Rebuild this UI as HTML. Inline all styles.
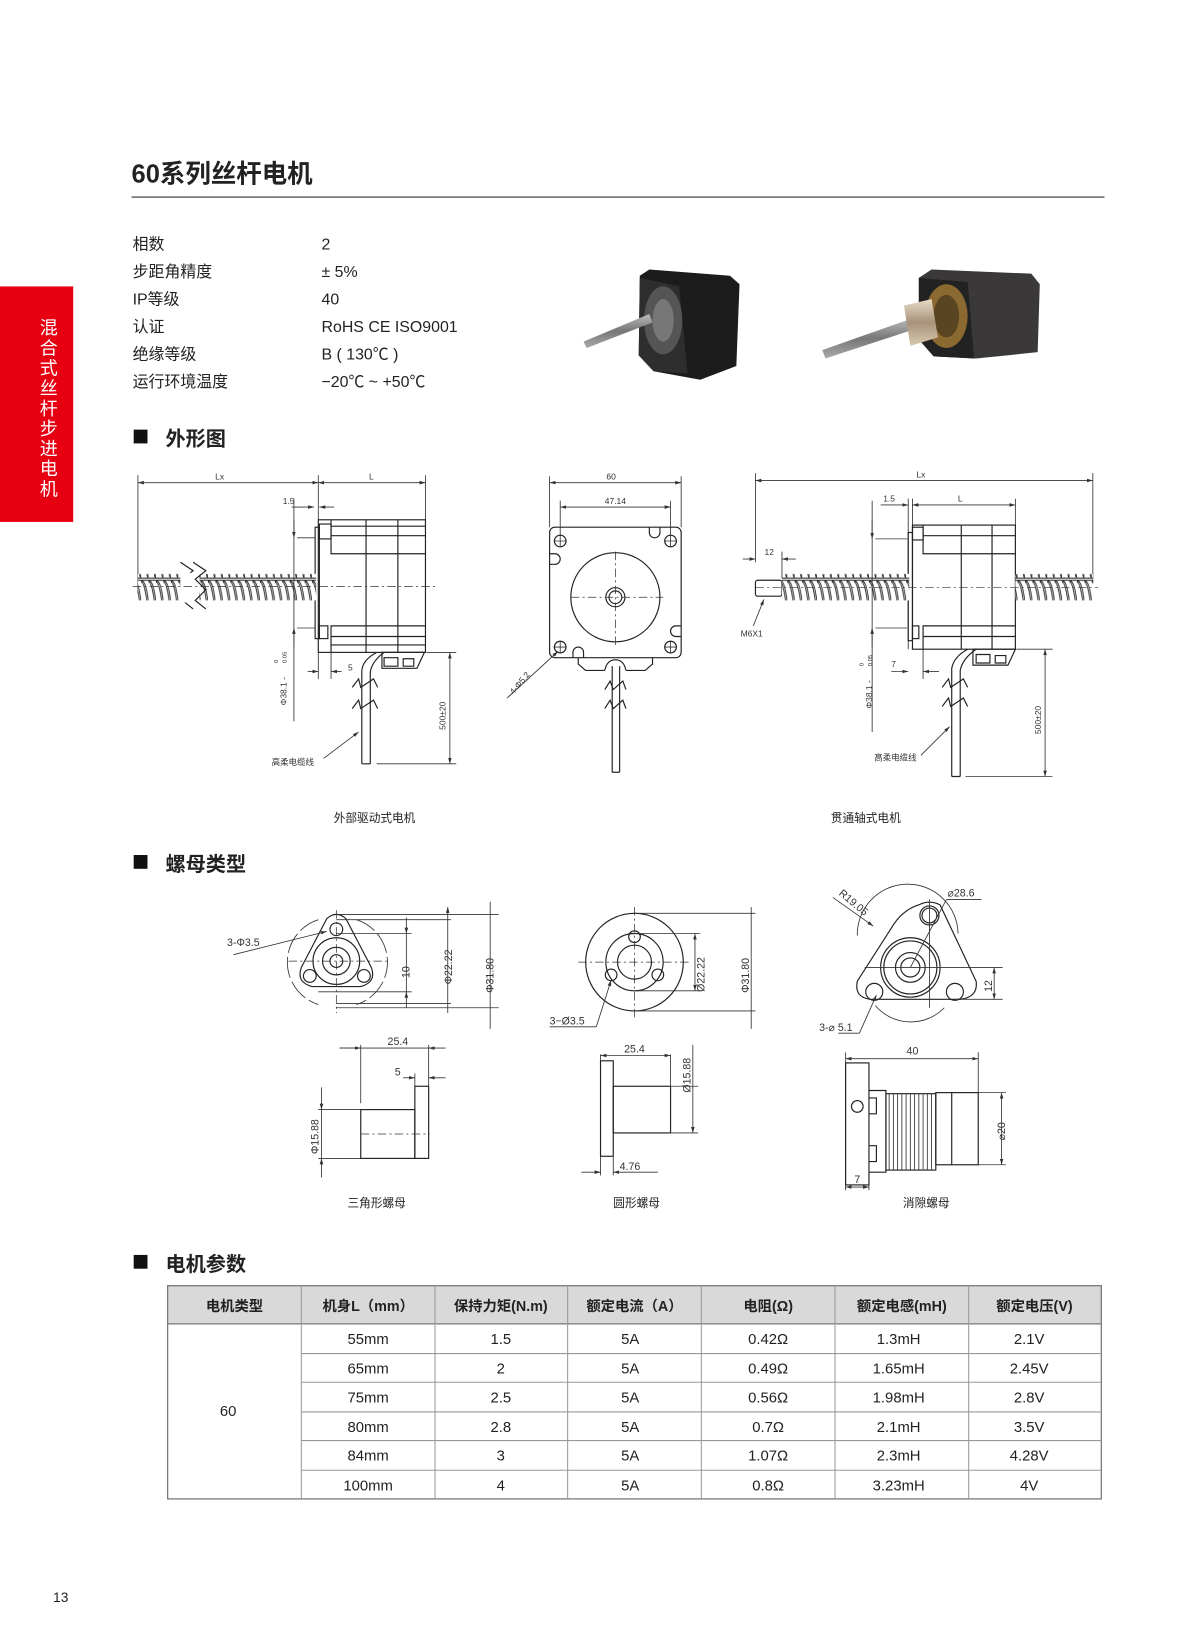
<!DOCTYPE html>
<html><head><meta charset="utf-8"><style>
html,body{margin:0;padding:0;background:#fff;width:1200px;height:1640px;overflow:hidden}
svg{display:block}
text{font-family:"Liberation Sans","Noto Sans CJK SC",sans-serif;fill:#222}
.d{fill:none;stroke:#333;stroke-width:0.8}
.t{fill:none;stroke:#222;stroke-width:1.1}
.c{fill:none;stroke:#333;stroke-width:0.7;stroke-dasharray:8 3 2 3}
.s{font-size:8px;fill:#333}
.n{font-size:10px;fill:#333}
</style></head><body>
<svg width="1200" height="1640" viewBox="0 0 1131 1546" preserveAspectRatio="none" xmlns="http://www.w3.org/2000/svg">
<defs>
<marker id="a" viewBox="0 0 10 10" refX="10" refY="5" markerWidth="7" markerHeight="7" orient="auto-start-reverse"><path d="M0,2 L10,5 L0,8z" fill="#333"/></marker>
<pattern id="thr" width="7" height="26" patternUnits="userSpaceOnUse"><rect width="7" height="26" fill="#fff"/><path d="M0,2 C5,2 6,24 7,24" stroke="#333" stroke-width="2.4" fill="none"/><path d="M1,3 C5,4 5.5,20 6.5,22" stroke="#bbb" stroke-width="0.8" fill="none"/><path d="M0,1 H7 M0,25 H7" stroke="#333" stroke-width="1"/></pattern>
<linearGradient id="sh" x1="0" y1="0" x2="0" y2="1"><stop offset="0" stop-color="#bbb"/><stop offset=".5" stop-color="#777"/><stop offset="1" stop-color="#aaa"/></linearGradient>
<linearGradient id="br" x1="0" y1="0" x2="0" y2="1"><stop offset="0" stop-color="#e8dcc8"/><stop offset=".5" stop-color="#a8927a"/><stop offset="1" stop-color="#d8c8b0"/></linearGradient>
</defs>

<!-- header -->
<text x="124" y="172" font-size="24" font-weight="bold" fill="#111">60系列丝杆电机</text>
<rect x="124" y="185" width="917" height="1.6" fill="#777"/>
<rect x="0" y="270" width="69" height="222" fill="#e60012"/>
<g font-size="17" text-anchor="middle">
<text x="46" y="315" style="fill:#fff">混</text><text x="46" y="334" style="fill:#fff">合</text><text x="46" y="353" style="fill:#fff">式</text><text x="46" y="372" style="fill:#fff">丝</text><text x="46" y="391" style="fill:#fff">杆</text><text x="46" y="410" style="fill:#fff">步</text><text x="46" y="429" style="fill:#fff">进</text><text x="46" y="448" style="fill:#fff">电</text><text x="46" y="467" style="fill:#fff">机</text>
</g>

<!-- spec -->
<g font-size="15" fill="#333">
<text x="125" y="235">相数</text><text x="303" y="235">2</text>
<text x="125" y="261">步距角精度</text><text x="303" y="261">± 5%</text>
<text x="125" y="287">IP等级</text><text x="303" y="287">40</text>
<text x="125" y="313">认证</text><text x="303" y="313">RoHS CE ISO9001</text>
<text x="125" y="339">绝缘等级</text><text x="303" y="339">B ( 130℃ )</text>
<text x="125" y="365">运行环境温度</text><text x="303" y="365">−20℃ ~ +50℃</text>
</g>

<!-- photos -->
<g>
<path d="M603,260 L612,254 L688,260 L697,268 L694,345 L660,358 L616,350 L602,335z" fill="#1c1c1c"/>
<path d="M603,262 L640,270 L648,352 L616,350 L602,335z" fill="#2e2e2e"/>
<ellipse cx="625" cy="302" rx="18" ry="32" fill="#555"/><ellipse cx="625" cy="302" rx="10" ry="20" fill="#777"/>
<path d="M550,322 L612,296 L615,304 L553,328z" fill="url(#sh)"/>
<path d="M866,262 L878,254 L972,258 L980,268 L978,332 L920,338 L880,336 L866,320z" fill="#3a3838"/>
<path d="M866,262 L912,266 L918,338 L880,336 L866,320z" fill="#222"/>
<ellipse cx="892" cy="298" rx="20" ry="30" fill="#8a6a30"/><ellipse cx="892" cy="298" rx="12" ry="20" fill="#5a4522"/>
<path d="M775,330 L860,300 L863,310 L778,338z" fill="url(#sh)"/>
<path d="M852,288 L878,282 L884,318 L858,326z" fill="url(#br)"/>
</g>

<!-- section titles -->
<rect x="126" y="405" width="13" height="13" fill="#111"/><text x="156" y="420" font-size="19" font-weight="bold" fill="#111">外形图</text>
<rect x="126" y="806" width="13" height="13" fill="#111"/><text x="156" y="821" font-size="19" font-weight="bold" fill="#111">螺母类型</text>
<rect x="126" y="1183" width="13" height="13" fill="#111"/><text x="156" y="1198" font-size="19" font-weight="bold" fill="#111">电机参数</text>

<!-- drawing 1 -->
<g>
<line class="d" x1="130" y1="448" x2="130" y2="560"/><line class="d" x1="300" y1="448" x2="300" y2="490"/><line class="d" x1="401" y1="448" x2="401" y2="490"/>
<line class="d" x1="130" y1="455" x2="300" y2="455" marker-start="url(#a)" marker-end="url(#a)"/>
<line class="d" x1="300" y1="455" x2="401" y2="455" marker-start="url(#a)" marker-end="url(#a)"/>
<text class="s" x="207" y="452" text-anchor="middle">Lx</text><text class="s" x="350" y="452" text-anchor="middle">L</text>
<line class="d" x1="275" y1="478" x2="296" y2="478" marker-end="url(#a)"/><line class="d" x1="301" y1="478" x2="315" y2="478" marker-start="url(#a)"/>
<text class="s" x="272" y="475" text-anchor="middle">1.5</text>
<rect class="t" x="300" y="490" width="101" height="125"/>
<rect class="t" x="297" y="497" width="4" height="105"/>
<rect class="t" x="301" y="494" width="11" height="14"/><rect class="t" x="301" y="590" width="8" height="12"/>
<path class="t" d="M312,490 V522 H401 M312,505 H401 M312,496 H401 M312,615 V590 H401 M312,600 H401 M312,608 H401 M345,490 V615 M375,490 V615"/>
<rect x="130" y="541" width="40" height="25" fill="url(#thr)"/><rect x="188" y="541" width="110" height="25" fill="url(#thr)"/>
<path class="t" d="M170,530 L182,538 L172,546 L182,556 L172,566 L182,574 M182,530 L194,538 L184,546 L194,556 L184,566 L194,574"/>
<rect x="171" y="540" width="12" height="28" fill="#fff"/>
<line class="c" x1="125" y1="553" x2="410" y2="553"/>
<line class="d" x1="277" y1="470" x2="277" y2="680"/><line class="d" x1="280" y1="507" x2="297" y2="507"/><line class="d" x1="280" y1="592" x2="297" y2="592"/>
<line class="d" x1="277" y1="490" x2="277" y2="507" marker-end="url(#a)"/><line class="d" x1="277" y1="610" x2="277" y2="592" marker-end="url(#a)"/>
<text class="s" transform="translate(270,665) rotate(-90)">Φ38.1 -</text><text transform="translate(262,625) rotate(-90)" font-size="5.5" fill="#333">0</text><text transform="translate(270,625) rotate(-90)" font-size="5.5" fill="#333">0.05</text>
<line class="d" x1="300" y1="615" x2="300" y2="640"/><line class="d" x1="312" y1="615" x2="312" y2="640"/>
<line class="d" x1="290" y1="633" x2="300" y2="633" marker-end="url(#a)"/><line class="d" x1="322" y1="633" x2="312" y2="633" marker-end="url(#a)"/>
<text class="s" x="328" y="632">5</text>
<path class="t" d="M355,615 Q342,622 341,632 V720 M362,615 Q350,624 349,634 V720 M341,720 H349"/>
<path class="t" d="M360,615 H400 L393,630 H360z M362,620 H375 V628 H362z M380,621 H390 V628 H380z"/>
<path class="t" d="M332,648 L338,640 L340,648 L352,640 L356,648 M332,668 L338,660 L340,668 L352,660 L356,668"/>
<line class="d" x1="355" y1="720" x2="430" y2="720"/><line class="d" x1="402" y1="615" x2="430" y2="615"/>
<line class="d" x1="424" y1="615" x2="424" y2="720" marker-start="url(#a)" marker-end="url(#a)"/>
<text class="s" transform="translate(420,688) rotate(-90)">500±20</text>
<line class="d" x1="305" y1="715" x2="338" y2="690" marker-end="url(#a)"/>
<text class="s" x="256" y="721">高柔电缆线</text>
</g>

<!-- front view -->
<g>
<line class="d" x1="518" y1="449" x2="518" y2="497"/><line class="d" x1="642" y1="449" x2="642" y2="497"/>
<line class="d" x1="518" y1="455" x2="642" y2="455" marker-start="url(#a)" marker-end="url(#a)"/><text class="s" x="576" y="452" text-anchor="middle">60</text>
<line class="d" x1="528" y1="472" x2="528" y2="505"/><line class="d" x1="632" y1="472" x2="632" y2="505"/>
<line class="d" x1="528" y1="478" x2="632" y2="478" marker-start="url(#a)" marker-end="url(#a)"/><text class="s" x="580" y="475" text-anchor="middle">47.14</text>
<rect class="t" x="518" y="497" width="124" height="123" rx="5"/>
<circle class="t" cx="580" cy="563" r="42"/><circle class="t" cx="580" cy="563" r="9"/><circle class="t" cx="580" cy="563" r="6"/>
<path class="c" d="M538,563 H625 M580,520 V610"/>
<g class="t"><circle cx="528" cy="510" r="5.5"/><circle cx="632" cy="510" r="5.5"/><circle cx="528" cy="610" r="5.5"/><circle cx="632" cy="610" r="5.5"/></g>
<path class="d" d="M522,510H534M528,504V516M626,510H638M632,504V516M522,610H534M528,604V616M626,610H638M632,604V616"/>
<path class="t" d="M612,497 v5 a5,5 0 0 0 10,0 v-5 M518,522 h5 a5,5 0 0 1 0,10 h-5 M642,600 h-5 a5,5 0 0 1 0,-10 h5 M540,620 v-5 a5,5 0 0 1 10,0 v5"/>
<path class="t" d="M545,620 V626 L552,632 H570 M615,620 V626 L608,632 H590 M570,632 Q572,622 580,622 Q588,622 590,632"/>
<path class="t" d="M577,628 V728 M584,628 V728 M577,728 H584"/>
<path class="t" d="M570,650 L575,642 L578,650 L587,642 L590,650 M570,668 L575,660 L578,668 L587,660 L590,668"/>
<line class="d" x1="478" y1="658" x2="526" y2="614" marker-end="url(#a)"/>
<text class="s" transform="translate(484,655) rotate(-50)">4-Φ5.2</text>
</g>

<!-- drawing 3 -->
<g>
<line class="d" x1="712" y1="446" x2="712" y2="530"/><line class="d" x1="1030" y1="446" x2="1030" y2="550"/>
<line class="d" x1="712" y1="453" x2="1030" y2="453" marker-start="url(#a)" marker-end="url(#a)"/><text class="s" x="868" y="450" text-anchor="middle">Lx</text>
<line class="d" x1="860" y1="470" x2="860" y2="495"/><line class="d" x1="957" y1="470" x2="957" y2="495"/>
<line class="d" x1="860" y1="476" x2="957" y2="476" marker-start="url(#a)" marker-end="url(#a)"/><text class="s" x="905" y="473" text-anchor="middle">L</text>
<line class="d" x1="830" y1="476" x2="856" y2="476" marker-end="url(#a)"/><text class="s" x="838" y="473" text-anchor="middle">1.5</text>
<line class="d" x1="856" y1="470" x2="856" y2="612"/>
<rect class="t" x="860" y="495" width="97" height="117"/>
<rect class="t" x="856" y="502" width="4" height="102"/>
<rect class="t" x="860" y="497" width="10" height="12"/><rect class="t" x="860" y="590" width="6" height="12"/>
<path class="t" d="M870,495 V522 H957 M870,505 H957 M870,612 V590 H957 M870,600 H957 M906,495 V612 M935,495 V612"/>
<rect class="t" x="712" y="547" width="25" height="15" rx="2"/>
<rect x="737" y="541" width="120" height="25" fill="url(#thr)"/><rect x="957" y="541" width="73" height="25" fill="url(#thr)"/>
<line class="c" x1="712" y1="554" x2="1035" y2="554"/>
<line class="d" x1="737" y1="520" x2="737" y2="545"/>
<line class="d" x1="700" y1="527" x2="712" y2="527" marker-end="url(#a)"/><line class="d" x1="750" y1="527" x2="737" y2="527" marker-end="url(#a)"/>
<text class="s" x="725" y="523" text-anchor="middle">12</text>
<line class="d" x1="710" y1="590" x2="720" y2="565" marker-end="url(#a)"/><text class="s" x="698" y="600">M6X1</text>
<line class="d" x1="822" y1="472" x2="822" y2="690"/><line class="d" x1="825" y1="508" x2="855" y2="508"/><line class="d" x1="825" y1="592" x2="855" y2="592"/>
<line class="d" x1="822" y1="490" x2="822" y2="508" marker-end="url(#a)"/><line class="d" x1="822" y1="610" x2="822" y2="592" marker-end="url(#a)"/>
<text class="s" transform="translate(822,668) rotate(-90)">Φ38.1 -</text><text transform="translate(814,628) rotate(-90)" font-size="5.5" fill="#333">0</text><text transform="translate(822,628) rotate(-90)" font-size="5.5" fill="#333">0.05</text>
<line class="d" x1="870" y1="612" x2="870" y2="640"/>
<line class="d" x1="840" y1="633" x2="856" y2="633" marker-end="url(#a)"/><line class="d" x1="885" y1="633" x2="870" y2="633" marker-end="url(#a)"/>
<text class="s" x="840" y="629">7</text>
<path class="t" d="M912,612 Q899,619 897,630 V732 M920,612 Q907,621 905,632 V732 M897,732 H905"/>
<path class="t" d="M917,612 H957 L950,627 H917z M920,617 H933 V625 H920z M938,618 H948 V625 H938z"/>
<path class="t" d="M888,648 L894,640 L896,648 L908,640 L912,648 M888,666 L894,658 L896,666 L908,658 L912,666"/>
<line class="d" x1="910" y1="732" x2="992" y2="732"/><line class="d" x1="958" y1="612" x2="992" y2="612"/>
<line class="d" x1="985" y1="612" x2="985" y2="732" marker-start="url(#a)" marker-end="url(#a)"/>
<text class="s" transform="translate(981,692) rotate(-90)">500±20</text>
<line class="d" x1="868" y1="712" x2="895" y2="685" marker-end="url(#a)"/>
<text class="s" x="824" y="717">高柔电缆线</text>
</g>
<text x="353" y="775" font-size="11" text-anchor="middle" fill="#333">外部驱动式电机</text>
<text x="816" y="775" font-size="11" text-anchor="middle" fill="#333">贯通轴式电机</text>

<!-- triangle nut -->
<g>
<path class="d" d="M300,867 A42,42 0 0 0 300,947 M336,867 A42,42 0 0 1 336,947" stroke-dasharray="20 4"/>
<path class="t" d="M308,866 Q317,858 326,866 L350,912 Q355,926 340,930 L294,930 Q279,926 284,912z"/>
<circle class="t" cx="317" cy="906" r="22"/><circle class="t" cx="317" cy="906" r="13"/><circle class="t" cx="317" cy="906" r="6"/>
<circle class="t" cx="317" cy="876" r="6"/><circle class="t" cx="292" cy="920" r="6"/><circle class="t" cx="343" cy="920" r="6"/>
<path class="c" d="M272,906 H365 M317,858 V955"/>
<line class="d" x1="317" y1="862" x2="470" y2="862"/><line class="d" x1="317" y1="867" x2="425" y2="867"/><line class="d" x1="317" y1="880" x2="388" y2="880"/>
<line class="d" x1="300" y1="935" x2="388" y2="935"/><line class="d" x1="317" y1="946" x2="425" y2="946"/><line class="d" x1="317" y1="950" x2="470" y2="950"/>
<line class="d" x1="383" y1="865" x2="383" y2="880" marker-end="url(#a)"/><line class="d" x1="383" y1="950" x2="383" y2="935" marker-end="url(#a)"/><line class="d" x1="383" y1="880" x2="383" y2="935"/>
<text class="n" transform="translate(386,922) rotate(-90)">10</text>
<line class="d" x1="422" y1="855" x2="422" y2="955" marker-start="url(#a)"/><text class="n" transform="translate(426,928) rotate(-90)">Φ22.22</text>
<line class="d" x1="462" y1="850" x2="462" y2="970"/><text class="n" transform="translate(465,936) rotate(-90)">Φ31.80</text>
<line class="d" x1="220" y1="900" x2="308" y2="878" marker-end="url(#a)"/><text class="n" x="214" y="892">3-Φ3.5</text>
<line class="d" x1="320" y1="988" x2="410" y2="988"/><line class="d" x1="340" y1="985" x2="340" y2="1040"/><line class="d" x1="404" y1="985" x2="404" y2="1024"/>
<line class="d" x1="320" y1="988" x2="340" y2="988" marker-end="url(#a)"/><line class="d" x1="420" y1="988" x2="404" y2="988" marker-end="url(#a)"/><text class="n" x="375" y="985" text-anchor="middle">25.4</text>
<line class="d" x1="380" y1="1016" x2="391" y2="1016" marker-end="url(#a)"/><line class="d" x1="420" y1="1016" x2="404" y2="1016" marker-end="url(#a)"/><line class="d" x1="391" y1="1012" x2="391" y2="1024"/><text class="n" x="372" y="1014">5</text>
<rect class="t" x="391" y="1024" width="13" height="68"/><rect class="t" x="340" y="1046" width="51" height="46"/>
<line class="c" x1="340" y1="1069" x2="405" y2="1069"/>
<line class="d" x1="300" y1="1046" x2="340" y2="1046"/><line class="d" x1="300" y1="1092" x2="340" y2="1092"/>
<line class="d" x1="303" y1="1025" x2="303" y2="1046" marker-end="url(#a)"/><line class="d" x1="303" y1="1110" x2="303" y2="1092" marker-end="url(#a)"/><line class="d" x1="303" y1="1046" x2="303" y2="1092"/>
<text class="n" transform="translate(300,1088) rotate(-90)">Φ15.88</text>
<text x="355" y="1138" font-size="11" text-anchor="middle" fill="#333">三角形螺母</text>
</g>

<!-- round nut -->
<g>
<circle class="t" cx="598" cy="907" r="46"/><circle class="t" cx="598" cy="907" r="27"/><circle class="t" cx="598" cy="907" r="16"/>
<circle class="t" cx="598" cy="883" r="5.5"/><circle class="t" cx="576" cy="919" r="5.5"/><circle class="t" cx="620" cy="919" r="5.5"/>
<path class="c" d="M545,907 H650 M598,855 V960"/>
<line class="d" x1="598" y1="880" x2="660" y2="880"/><line class="d" x1="598" y1="934" x2="660" y2="934"/>
<line class="d" x1="598" y1="861" x2="712" y2="861"/><line class="d" x1="598" y1="953" x2="712" y2="953"/>
<line class="d" x1="655" y1="880" x2="655" y2="934" marker-start="url(#a)" marker-end="url(#a)"/><text class="n" transform="translate(664,935) rotate(-90)" font-size="12">Ø22.22</text>
<line class="d" x1="708" y1="855" x2="708" y2="970"/><text class="n" transform="translate(706,936) rotate(-90)">Φ31.80</text>
<line class="d" x1="518" y1="968" x2="562" y2="968"/><line class="d" x1="562" y1="968" x2="576" y2="924" marker-end="url(#a)"/><text class="n" x="518" y="966" font-size="11">3−Ø3.5</text>
<rect class="t" x="566" y="1000" width="12" height="90"/><rect class="t" x="578" y="1024" width="54" height="44"/>
<line class="d" x1="566" y1="994" x2="566" y2="1000"/><line class="d" x1="632" y1="994" x2="632" y2="1024"/>
<line class="d" x1="566" y1="995" x2="632" y2="995" marker-start="url(#a)" marker-end="url(#a)"/><text class="n" x="598" y="992" text-anchor="middle" font-size="11">25.4</text>
<line class="d" x1="632" y1="1024" x2="658" y2="1024"/><line class="d" x1="632" y1="1068" x2="658" y2="1068"/>
<line class="d" x1="653" y1="985" x2="653" y2="1068" marker-end="url(#a)"/><text class="n" transform="translate(651,1030) rotate(-90)" font-size="12">Ø15.88</text>
<line class="d" x1="566" y1="1090" x2="566" y2="1108"/><line class="d" x1="578" y1="1090" x2="578" y2="1108"/>
<line class="d" x1="548" y1="1105" x2="566" y2="1105" marker-end="url(#a)"/><line class="d" x1="620" y1="1105" x2="578" y2="1105" marker-end="url(#a)"/><text class="n" x="584" y="1103" font-size="11">4.76</text>
<text x="600" y="1138" font-size="11" text-anchor="middle" fill="#333">圆形螺母</text>
</g>

<!-- anti-backlash -->
<g>
<path class="d" d="M808,882 A44,44 0 0 1 903,880"/><path class="d" d="M825,948 A44,44 0 0 0 890,950"/>
<path class="t" d="M866,853 Q876,848 886,853 L920,925 Q922,940 905,942 L820,942 Q805,940 808,925 L840,875 Q850,858 866,853z"/>
<circle class="t" cx="858" cy="912" r="28"/><circle class="t" cx="858" cy="912" r="25"/><circle class="t" cx="858" cy="912" r="14"/><circle class="t" cx="858" cy="912" r="9"/>
<circle class="t" cx="876" cy="863" r="9"/><circle class="t" cx="876" cy="863" r="7"/><circle class="t" cx="824" cy="935" r="8"/><circle class="t" cx="900" cy="935" r="8"/>
<path class="d" d="M876,848 V950 M815,912 H945"/>
<line class="d" x1="858" y1="912" x2="892" y2="848"/><line class="d" x1="892" y1="848" x2="925" y2="848"/><text class="n" x="893" y="845" font-size="9">⌀28.6</text>
<line class="d" x1="785" y1="846" x2="823" y2="873" marker-end="url(#a)"/><text class="n" transform="translate(790,843) rotate(40)" font-size="9">R19.05</text>
<line class="d" x1="900" y1="942" x2="945" y2="942"/>
<line class="d" x1="937" y1="912" x2="937" y2="942" marker-start="url(#a)" marker-end="url(#a)"/><text class="n" transform="translate(935,935) rotate(-90)">12</text>
<line class="d" x1="790" y1="974" x2="810" y2="974"/><line class="d" x1="810" y1="974" x2="826" y2="938" marker-end="url(#a)"/><text class="n" x="772" y="972" font-size="9">3-⌀ 5.1</text>
<line class="d" x1="797" y1="992" x2="797" y2="1122"/><line class="d" x1="922" y1="992" x2="922" y2="1030"/>
<line class="d" x1="797" y1="998" x2="922" y2="998" marker-start="url(#a)" marker-end="url(#a)"/><text class="n" x="860" y="994" text-anchor="middle">40</text>
<rect class="t" x="797" y="1002" width="22" height="115"/>
<circle class="t" cx="808" cy="1043" r="5.5"/>
<path class="t" d="M819,1028 H835 V1105 H819 M819,1035 H826 V1050 H819 M819,1080 H826 V1095 H819"/>
<rect class="t" x="835" y="1031" width="47" height="72"/>
<path class="d" d="M838,1031V1103M842,1031V1103M846,1031V1103M850,1031V1103M854,1031V1103M858,1031V1103M862,1031V1103M866,1031V1103M870,1031V1103M874,1031V1103M878,1031V1103"/>
<rect class="t" x="882" y="1030" width="40" height="68"/><line class="t" x1="897" y1="1030" x2="897" y2="1098"/>
<line class="d" x1="922" y1="1030" x2="948" y2="1030"/><line class="d" x1="922" y1="1098" x2="948" y2="1098"/>
<line class="d" x1="944" y1="1030" x2="944" y2="1098" marker-start="url(#a)" marker-end="url(#a)"/><text class="n" transform="translate(947,1075) rotate(-90)" font-size="9">⌀20</text>
<line class="d" x1="819" y1="1117" x2="819" y2="1122"/>
<line class="d" x1="797" y1="1119" x2="819" y2="1119" marker-start="url(#a)" marker-end="url(#a)"/><text class="n" x="808" y="1115" text-anchor="middle">7</text>
<text x="873" y="1138" font-size="11" text-anchor="middle" fill="#333">消隙螺母</text>
</g>

<!-- table -->
<g>
<rect x="158" y="1212" width="880" height="36" fill="#d9d9d9"/>
<rect x="158" y="1212" width="880" height="201" fill="none" stroke="#777" stroke-width="1.2"/>
<line x1="158" y1="1248" x2="1038" y2="1248" stroke="#777" stroke-width="1.2"/>
<g stroke="#999" stroke-width="1">
<line x1="284" y1="1212" x2="284" y2="1413"/><line x1="410" y1="1212" x2="410" y2="1413"/><line x1="535" y1="1212" x2="535" y2="1413"/><line x1="661" y1="1212" x2="661" y2="1413"/><line x1="787" y1="1212" x2="787" y2="1413"/><line x1="913" y1="1212" x2="913" y2="1413"/>
<line x1="284" y1="1276" x2="1038" y2="1276"/><line x1="284" y1="1303" x2="1038" y2="1303"/><line x1="284" y1="1331" x2="1038" y2="1331"/><line x1="284" y1="1358" x2="1038" y2="1358"/><line x1="284" y1="1386" x2="1038" y2="1386"/>
</g>
<g font-size="13.5" font-weight="bold" text-anchor="middle" fill="#222">
<text x="221" y="1236">电机类型</text><text x="347" y="1236">机身L（mm）</text><text x="472" y="1236">保持力矩(N.m)</text><text x="598" y="1236">额定电流（A）</text><text x="724" y="1236">电阻(Ω)</text><text x="850" y="1236">额定电感(mH)</text><text x="975" y="1236">额定电压(V)</text>
</g>
<g font-size="14" text-anchor="middle" fill="#333">
<text x="215" y="1335">60</text>
<text x="347" y="1267">55mm</text><text x="472" y="1267">1.5</text><text x="594" y="1267">5A</text><text x="724" y="1267">0.42Ω</text><text x="847" y="1267">1.3mH</text><text x="970" y="1267">2.1V</text>
<text x="347" y="1295">65mm</text><text x="472" y="1295">2</text><text x="594" y="1295">5A</text><text x="724" y="1295">0.49Ω</text><text x="847" y="1295">1.65mH</text><text x="970" y="1295">2.45V</text>
<text x="347" y="1322">75mm</text><text x="472" y="1322">2.5</text><text x="594" y="1322">5A</text><text x="724" y="1322">0.56Ω</text><text x="847" y="1322">1.98mH</text><text x="970" y="1322">2.8V</text>
<text x="347" y="1350">80mm</text><text x="472" y="1350">2.8</text><text x="594" y="1350">5A</text><text x="724" y="1350">0.7Ω</text><text x="847" y="1350">2.1mH</text><text x="970" y="1350">3.5V</text>
<text x="347" y="1377">84mm</text><text x="472" y="1377">3</text><text x="594" y="1377">5A</text><text x="724" y="1377">1.07Ω</text><text x="847" y="1377">2.3mH</text><text x="970" y="1377">4.28V</text>
<text x="347" y="1405">100mm</text><text x="472" y="1405">4</text><text x="594" y="1405">5A</text><text x="724" y="1405">0.8Ω</text><text x="847" y="1405">3.23mH</text><text x="970" y="1405">4V</text>
</g>
</g>
<text x="50" y="1510" font-size="13" fill="#333">13</text>
</svg>
</body></html>
